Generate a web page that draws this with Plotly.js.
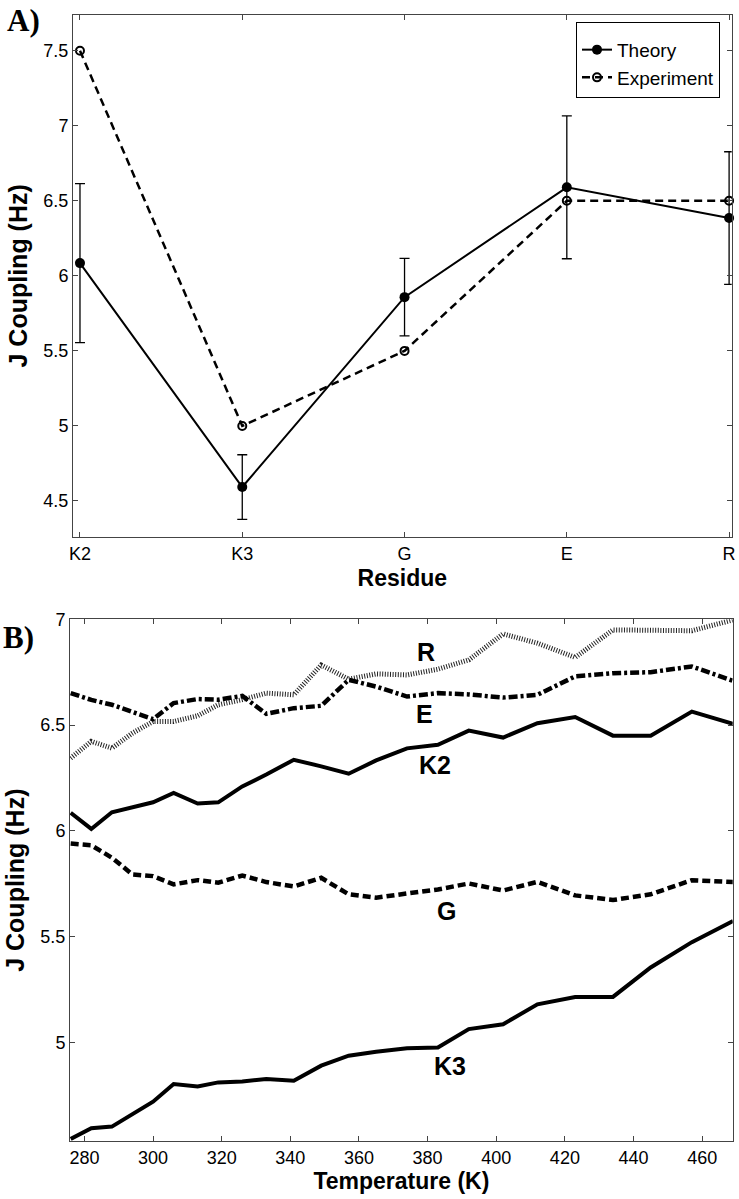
<!DOCTYPE html>
<html><head><meta charset="utf-8">
<script src="https://cdn.plot.ly/plotly-3.0.1.min.js"></script>
<style>html,body{margin:0;padding:0;background:#fff}#chart{width:739px;height:1199px}</style>
</head><body><div id="chart"></div>
<script>
// Panel A data
const residues = ['K2', 'K3', 'G', 'E', 'R'];
const theory = [6.085, 4.593, 5.858, 6.59, 6.385];
const theoryErr = [0.53, 0.215, 0.258, 0.476, 0.442];
const experiment = [7.5, 5.0, 5.5, 6.5, 6.5];

// Panel B data
const temperatures = [276, 282, 288, 294, 300, 306, 313, 319, 326, 333, 341, 349, 357, 365, 374, 383, 392, 402, 412, 423, 434, 445, 457, 469];
const jK2 = [6.085, 6.009, 6.088, 6.111, 6.135, 6.179, 6.129, 6.135, 6.21, 6.266, 6.336, 6.305, 6.27, 6.333, 6.39, 6.407, 6.474, 6.441, 6.509, 6.538, 6.45, 6.45, 6.564, 6.506];
const jK3 = [4.544, 4.594, 4.602, 4.66, 4.72, 4.803, 4.792, 4.811, 4.815, 4.827, 4.819, 4.89, 4.937, 4.956, 4.972, 4.976, 5.063, 5.086, 5.18, 5.215, 5.215, 5.354, 5.474, 5.574];
const jG = [5.94, 5.932, 5.873, 5.794, 5.786, 5.747, 5.767, 5.755, 5.789, 5.758, 5.737, 5.778, 5.70, 5.684, 5.704, 5.723, 5.751, 5.718, 5.759, 5.695, 5.673, 5.70, 5.767, 5.758];
const jE = [6.651, 6.619, 6.596, 6.56, 6.528, 6.604, 6.623, 6.62, 6.638, 6.553, 6.58, 6.591, 6.714, 6.682, 6.635, 6.651, 6.645, 6.63, 6.643, 6.73, 6.745, 6.75, 6.777, 6.709];
const jR = [6.344, 6.423, 6.391, 6.462, 6.517, 6.517, 6.544, 6.596, 6.62, 6.651, 6.643, 6.784, 6.717, 6.742, 6.737, 6.764, 6.808, 6.931, 6.887, 6.82, 6.95, 6.95, 6.946, 6.997];

const sans = 'Arial, "Liberation Sans", Helvetica, sans-serif';
const serif = '"Liberation Serif", "Times New Roman", serif';
const frame = '#444';

const traces = [
  {x: residues, y: theory, name: 'Theory', type: 'scatter', mode: 'lines+markers',
   xaxis: 'x', yaxis: 'y', cliponaxis: false,
   line: {color: '#000', width: 2},
   marker: {symbol: 'circle', size: 10, color: '#000'},
   error_y: {type: 'data', array: theoryErr, visible: true, color: '#000', thickness: 1.3, width: 5}},
  {x: residues, y: experiment, name: 'Experiment', type: 'scatter', mode: 'lines+markers',
   xaxis: 'x', yaxis: 'y', cliponaxis: false,
   line: {color: '#000', width: 2.5, dash: '8px,5px'},
   marker: {symbol: 'circle-open', size: 8, color: '#000', line: {width: 2, color: '#000'}}},
  {x: temperatures, y: jR, name: 'R', xaxis: 'x2', yaxis: 'y2', mode: 'lines', showlegend: false,
   line: {color: '#222', width: 5, dash: '1px,1.6px'}},
  {x: temperatures, y: jE, name: 'E', xaxis: 'x2', yaxis: 'y2', mode: 'lines', showlegend: false,
   line: {color: '#000', width: 4.5, dash: '9px,3px,3px,3px'}},
  {x: temperatures, y: jK2, name: 'K2', xaxis: 'x2', yaxis: 'y2', mode: 'lines', showlegend: false,
   line: {color: '#000', width: 4}},
  {x: temperatures, y: jG, name: 'G', xaxis: 'x2', yaxis: 'y2', mode: 'lines', showlegend: false,
   line: {color: '#000', width: 4.5, dash: '8px,4px'}},
  {x: temperatures, y: jK3, name: 'K3', xaxis: 'x2', yaxis: 'y2', mode: 'lines', showlegend: false,
   line: {color: '#000', width: 4}}
];

const axisCommon = {
  showline: true, linecolor: frame, linewidth: 1, mirror: 'ticks',
  ticks: 'inside', ticklen: 5, tickcolor: frame, tickwidth: 1,
  showgrid: false, zeroline: false, automargin: false,
  tickfont: {family: sans, size: 18, color: '#000'}
};
const xTitleFont = {family: sans, size: 23, color: '#000', weight: 'bold'};
const yTitleFont = {family: sans, size: 25, color: '#000', weight: 'bold'};
const labelFont = {family: sans, size: 25, color: '#000', weight: 'bold'};

const layout = {
  width: 739, height: 1199,
  margin: {l: 0, r: 0, t: 0, b: 0},
  paper_bgcolor: '#fff', plot_bgcolor: '#fff',
  showlegend: true,
  legend: {x: 576/739, y: 1 - 22/1199, xanchor: 'left', yanchor: 'top',
           bordercolor: '#000', borderwidth: 1, bgcolor: '#fff',
           font: {family: sans, size: 19, color: '#000'},
           title: {text: ' ', font: {size: 6}}},
  xaxis: Object.assign({}, axisCommon, {
    domain: [73/739, 731.7/739], anchor: 'y', type: 'category',
    range: [-0.043, 4.016],
    title: {text: 'Residue', font: xTitleFont, standoff: 7}
  }),
  yaxis: Object.assign({}, axisCommon, {
    domain: [1 - 537/1199, 1 - 14.7/1199], anchor: 'x',
    range: [4.26, 7.74], tickvals: [4.5, 5, 5.5, 6, 6.5, 7, 7.5],
    ticktext: ['4.5', '5', '5.5', '6', '6.5', '7', '7.5'],
    title: {text: 'J Coupling (Hz)', font: yTitleFont, standoff: 8}
  }),
  xaxis2: Object.assign({}, axisCommon, {
    domain: [70/739, 732.7/739], anchor: 'y2',
    range: [275.8, 468.9], tickvals: [280, 300, 320, 340, 360, 380, 400, 420, 440, 460],
    title: {text: 'Temperature (K)', font: xTitleFont, standoff: 6}
  }),
  yaxis2: Object.assign({}, axisCommon, {
    domain: [1 - 1141/1199, 1 - 619.3/1199], anchor: 'x2',
    range: [4.534, 7.0], tickvals: [5, 5.5, 6, 6.5, 7],
    ticktext: ['5', '5.5', '6', '6.5', '7'],
    title: {text: 'J Coupling (Hz)', font: yTitleFont, standoff: 8}
  }),
  annotations: [
    {text: 'A)', xref: 'paper', yref: 'paper', x: 5/739, y: 1 - 20/1199, xanchor: 'left', yanchor: 'middle',
     showarrow: false, font: {family: serif, size: 31, color: '#000', weight: 'bold'}},
    {text: 'B)', xref: 'paper', yref: 'paper', x: 1/739, y: 1 - 637/1199, xanchor: 'left', yanchor: 'middle',
     showarrow: false, font: {family: serif, size: 31, color: '#000', weight: 'bold'}},
    {text: 'R', xref: 'x2', yref: 'y2', x: 379.6, y: 6.847, showarrow: false, font: labelFont},
    {text: 'E', xref: 'x2', yref: 'y2', x: 379.1, y: 6.553, showarrow: false, font: labelFont},
    {text: 'K2', xref: 'x2', yref: 'y2', x: 382.1, y: 6.313, showarrow: false, font: labelFont},
    {text: 'G', xref: 'x2', yref: 'y2', x: 385.5, y: 5.621, showarrow: false, font: labelFont},
    {text: 'K3', xref: 'x2', yref: 'y2', x: 386.4, y: 4.89, showarrow: false, font: labelFont}
  ]
};

Plotly.newPlot('chart', traces, layout, {displayModeBar: false, staticPlot: true});
</script>
</body></html>
